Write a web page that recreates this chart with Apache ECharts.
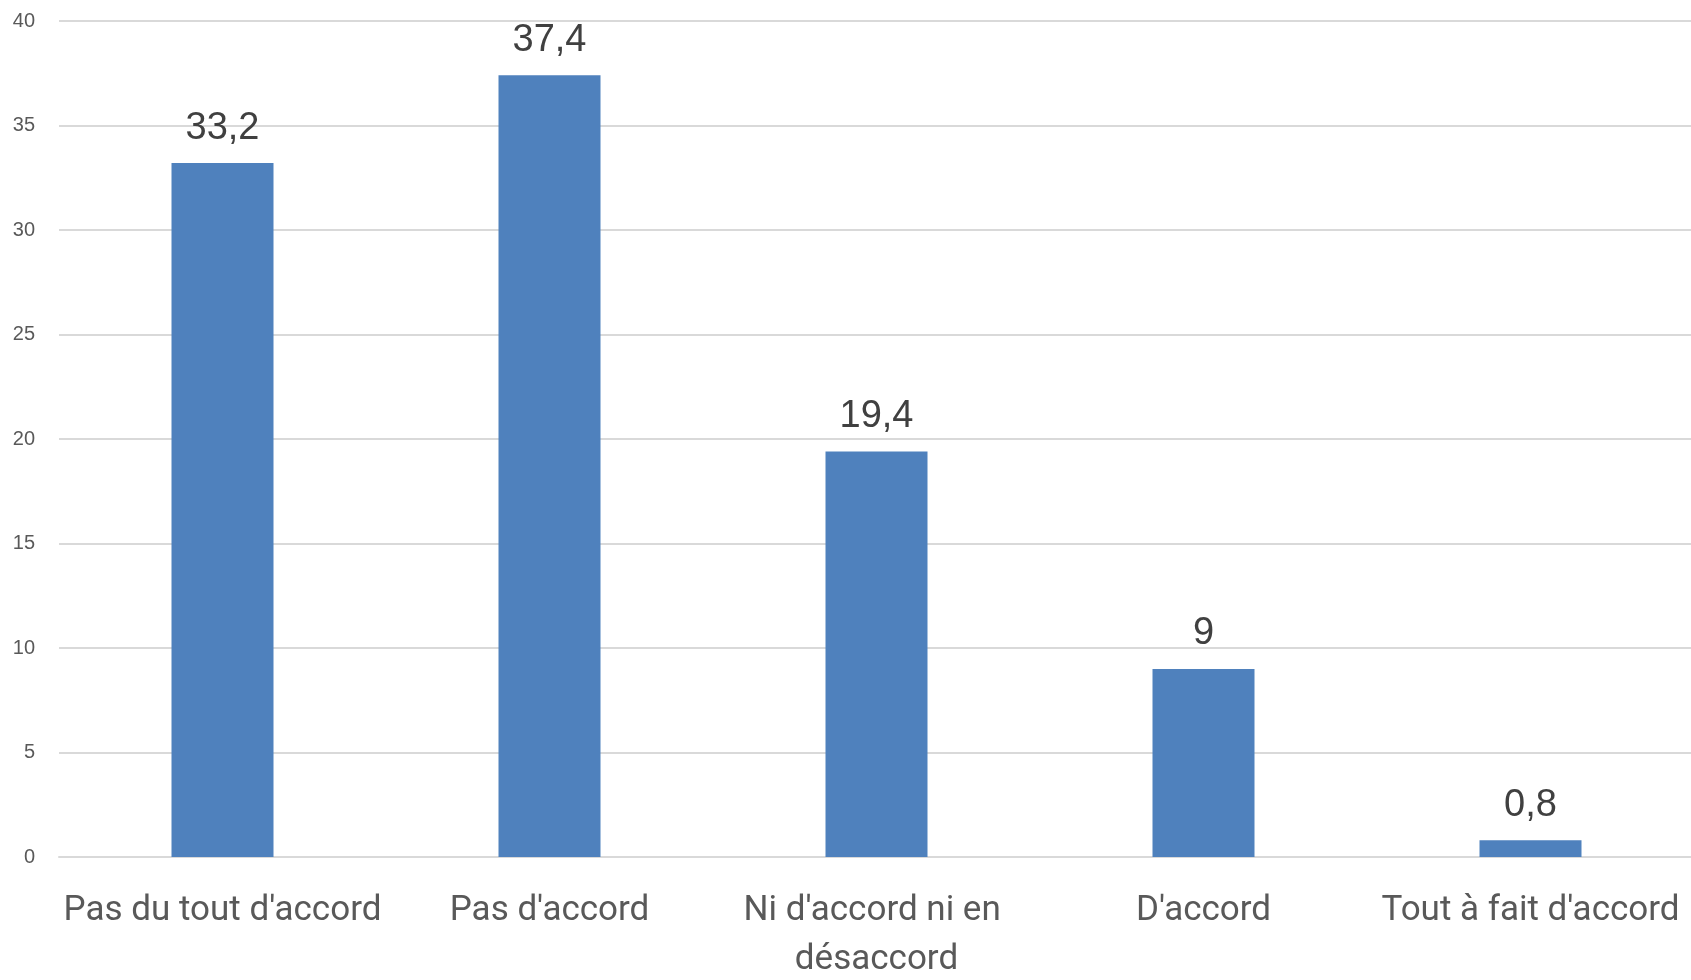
<!DOCTYPE html>
<html>
<head>
<meta charset="utf-8">
<script src="https://cdn.jsdelivr.net/npm/echarts@6/dist/echarts.min.js"></script>
<style>
html,body{margin:0;padding:0;background:#fff;}
#chart{width:1691px;height:980px;}
</style>
</head>
<body>
<div id="chart"></div>
<script>
const categories = ["Pas du tout d'accord", "Pas d'accord", "Ni d'accord ni en désaccord", "D'accord", "Tout à fait d'accord"];
const values = [33.2, 37.4, 19.4, 9, 0.8];
const yTicks = { min: 0, max: 40, interval: 5 };

const chart = echarts.init(document.getElementById('chart'));
chart.setOption({
  animation: false,
  backgroundColor: '#ffffff',
  grid: { left: 59, right: -3, top: 21, bottom: 123, containLabel: false, outerBoundsMode: 'none' },
  xAxis: {
    type: 'category',
    data: categories,
    axisLine: { show: true, lineStyle: { color: '#d9d9d9', width: 2 } },
    axisTick: { show: false },
    axisLabel: {
      color: '#595959',
      fontFamily: 'Roboto',
      fontSize: 35,
      lineHeight: 49,
      margin: 30,
      width: 325,
      overflow: 'break',
      interval: 0
    }
  },
  yAxis: {
    type: 'value',
    min: yTicks.min, max: yTicks.max, interval: yTicks.interval,
    axisLine: { show: false },
    axisTick: { show: false },
    splitLine: { lineStyle: { color: '#d9d9d9', width: 2 } },
    axisLabel: { color: '#595959', fontFamily: 'Liberation Sans', fontSize: 20, margin: 24 }
  },
  series: [{
    type: 'bar',
    data: values,
    barWidth: 102,
    itemStyle: { color: '#4F81BD' },
    label: {
      show: true,
      position: 'top',
      distance: 16,
      color: '#404040',
      fontFamily: 'Liberation Sans',
      fontSize: 38,
      formatter: p => String(p.value).replace('.', ',')
    }
  }]
});
</script>
</body>
</html>
